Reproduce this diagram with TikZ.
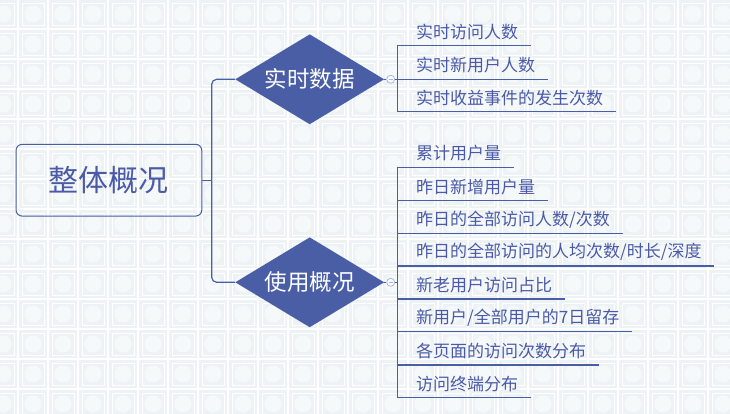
\documentclass[tikz,border=0pt]{standalone}
\usepackage{fontspec}
\setmainfont{Noto Sans CJK SC}
\usetikzlibrary{shapes.geometric}
\definecolor{mainblue}{HTML}{4A5EA6}
\definecolor{txtblue}{HTML}{4A5AA8}
\definecolor{tilec}{HTML}{EDF3F5}
\definecolor{circc}{HTML}{A8B6E0}
\begin{document}
\begin{tikzpicture}[x=1pt,y=-1pt,
 conn/.style={draw=mainblue,line width=1.2pt},
 rootbox/.style={draw=mainblue,line width=1pt,rounded corners=6pt,minimum width=185.7pt,minimum height=71.7pt,inner sep=0pt,text=txtblue,font=\fontsize{30}{32}\selectfont},
 diam/.style={diamond,fill=mainblue,minimum width=149pt,minimum height=90pt,inner sep=0pt,aspect=1.656},
 diamtext/.style={text=white,font=\fontsize{22.5}{25}\selectfont,inner sep=0pt},
 leaf/.style={anchor=west,inner sep=0pt,text=txtblue,font=\fontsize{17}{19}\selectfont},
 toggle/.style={circle,draw=circc,fill=white,line width=0.8pt,minimum size=8pt,inner sep=0pt}
]
\useasboundingbox (0,0) rectangle (730,414);
\fill[white] (0,0) rectangle (730,414);
\begin{scope}
\clip (0,0) rectangle (730,414);
\foreach \i in {-1,...,24} {
  \foreach \j in {-1,...,13} {
    \pgfmathsetmacro\xx{18+30*\i}
    \pgfmathsetmacro\yy{29+30*\j}
    \fill[tilec] (\xx+1,\yy+1) rectangle (\xx+29,\yy+29);
    \draw[white,line width=0.8pt] (\xx+4,\yy+4) rectangle (\xx+26,\yy+26);
    \fill[white,opacity=0.55] (\xx+15,\yy+15) circle[radius=8.5pt];
  }
}
\end{scope}

% root
\node[rootbox] (root) at (108.9,180.2) {整体概况};
\coordinate (trunk) at (211.7,180.2);

% diamonds
\node[diam] (d1) at (309.7,79.3) {};
\node[diamtext] (d1t) at (d1.center) {实时数据};
\node[diam] (d2) at (309.7,282.3) {};
\node[diamtext] (d2t) at (d2.center) {使用概况};

\draw[conn] (root.east) -- (trunk);
\draw[conn,rounded corners=5pt] (d1.west) -| (trunk) |- (d2.west);

% toggles
\node[toggle] (tg1) at (390.7,79.3) {};
\node[toggle] (tg2) at (390.7,282.3) {};
\draw[circc,line width=0.7pt] ([xshift=-2.2pt]tg1.center) -- ([xshift=2.2pt]tg1.center);
\draw[circc,line width=0.7pt] ([xshift=-2.2pt]tg2.center) -- ([xshift=2.2pt]tg2.center);

% group 1
\coordinate (ua1) at (397.3,45.7);
\coordinate (ua2) at (397.3,79.3);
\coordinate (ua3) at (397.3,111.7);
\node[leaf] (a1) at (416,31.7) {实时访问人数};
\node[leaf] (a2) at (416,65.3) {实时新用户人数};
\node[leaf] (a3) at (416,97.7) {实时收益事件的发生次数};
\draw[conn] (ua1) -- ([xshift=12.5pt]a1.east |- ua1);
\draw[conn] (ua2) -- ([xshift=12.5pt]a2.east |- ua2);
\draw[conn] (ua3) -- ([xshift=12.5pt]a3.east |- ua3);
\draw[conn] (ua1) -- (ua3);
\draw[conn] (d1.east) -- (tg1.west);
\draw[conn] (tg1.east) -- (tg1.east -| ua1);

% group 2
\coordinate (ub1) at (397.3,167.3);
\coordinate (ub2) at (397.3,200.7);
\coordinate (ub3) at (397.3,233.3);
\coordinate (ub4) at (397.3,266);
\coordinate (ub5) at (397.3,299);
\coordinate (ub6) at (397.3,331.7);
\coordinate (ub7) at (397.3,365);
\coordinate (ub8) at (397.3,397.7);
\node[leaf] (b1) at (416,153.3) {累计用户量};
\node[leaf] (b2) at (416,186.7) {昨日新增用户量};
\node[leaf] (b3) at (416,219.3) {昨日的全部访问人数/次数};
\node[leaf] (b4) at (416,252) {昨日的全部访问的人均次数/时长/深度};
\node[leaf] (b5) at (416,285) {新老用户访问占比};
\node[leaf] (b6) at (416,317.7) {新用户/全部用户的7日留存};
\node[leaf] (b7) at (416,351) {各页面的访问次数分布};
\node[leaf] (b8) at (416,383.7) {访问终端分布};
\draw[conn] (ub1) -- ([xshift=12.5pt]b1.east |- ub1);
\draw[conn] (ub2) -- ([xshift=12.5pt]b2.east |- ub2);
\draw[conn] (ub3) -- ([xshift=12.5pt]b3.east |- ub3);
\draw[conn] (ub4) -- ([xshift=12.5pt]b4.east |- ub4);
\draw[conn] (ub5) -- ([xshift=12.5pt]b5.east |- ub5);
\draw[conn] (ub6) -- ([xshift=12.5pt]b6.east |- ub6);
\draw[conn] (ub7) -- ([xshift=12.5pt]b7.east |- ub7);
\draw[conn] (ub8) -- ([xshift=12.5pt]b8.east |- ub8);
\draw[conn] (ub1) -- (ub8);
\draw[conn] (d2.east) -- (tg2.west);
\draw[conn] (tg2.east) -- (tg2.east -| ub1);
\end{tikzpicture}
\end{document}
